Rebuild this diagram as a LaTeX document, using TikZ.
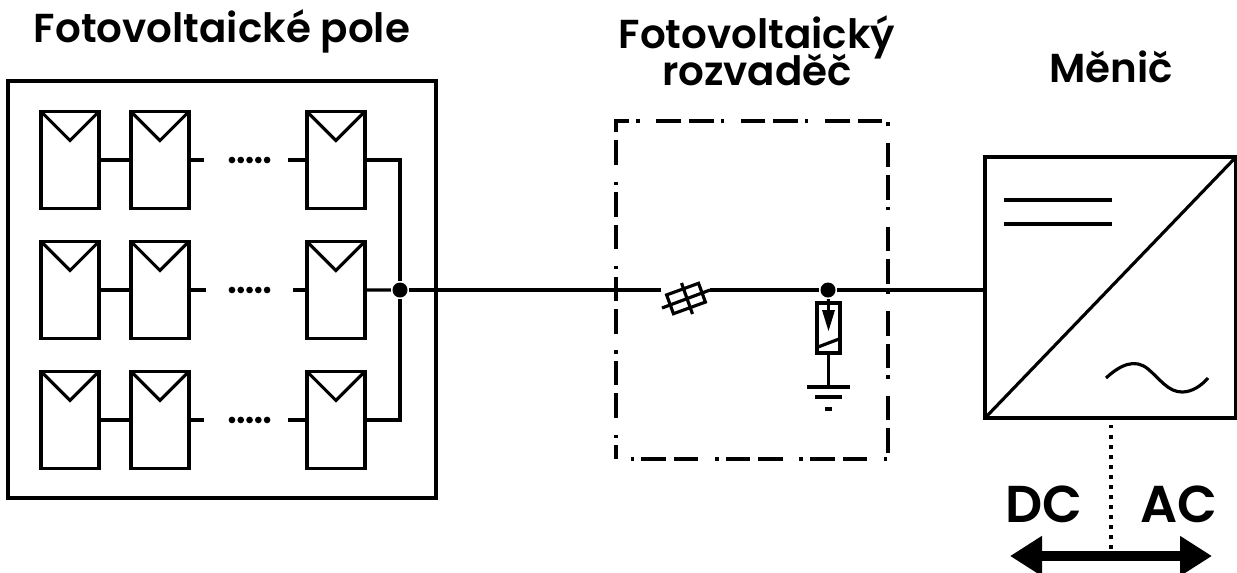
\documentclass[tikz,border=0pt]{standalone}
\usepackage{fontspec}
\setmainfont{Poppins}[BoldFont={Poppins SemiBold}]
\usetikzlibrary{positioning, arrows.meta}

\begin{document}
\begin{tikzpicture}[x = 0.02cm, y = -0.02cm, line width = 1.8pt,
    panel/.style={rectangle, draw, outer sep = 0pt, minimum width = 1.16cm, minimum height = 1.94cm,
      path picture={\draw (path picture bounding box.north west) -- ++(0.58cm, -0.58cm) -- (path picture bounding box.north east);}},
    frame/.style={rectangle, draw, outer sep = 0pt},
    dots/.style={line width = 3.8pt, line cap = round, dash pattern = on 0pt off 5pt},
    dot/.style={circle, fill, inner sep = 0pt, minimum size = 0.30cm},
    title/.style={font = \bfseries\fontsize{23}{26}\selectfont, align = center},
    big/.style={font = \bfseries\fontsize{29.5}{32}\selectfont}]
  \useasboundingbox (0,0) rectangle (1237,572);

  % frames
  \node [frame, minimum width = 8.56cm, minimum height = 8.34cm] (field) at (222,289.5) {};
  \node [frame, dash pattern = on 14pt off 4.5pt on 14pt off 9.5pt on 2pt off 4pt, dash phase = 33.6pt, minimum width = 5.44cm, minimum height = 6.76cm] (box) at (752,290) {};
  \node [frame, minimum width = 5.02cm, minimum height = 5.22cm] (inverter) at (1110.5,287.5) {};

  % labels
  \node [title] (fieldlabel) at (222,31) {Fotovoltaické pole};
  \node [title, text depth = 0pt] (boxlabel) at (757,51) {Fotovoltaický\\[-5pt]rozvaděč};
  \node [title] (inverterlabel) at (1111,67) {Měnič};
  \node [big] (dc) at (1044,504) {DC};
  \node [big] (ac) at (1179,504) {AC};

  % panels
  \node [panel] (panel11) at (70,160) {};
  \node [panel][right = 0.64cm of panel11] (panel12) {};
  \node [panel][right = 2.36cm of panel12] (panel13) {};

  \node [panel][below = 0.66cm of panel11] (panel21) {};
  \node [panel][right = 0.64cm of panel21] (panel22) {};
  \node [panel][right = 2.36cm of panel22] (panel23) {};

  \node [panel][below = 0.66cm of panel21] (panel31) {};
  \node [panel][right = 0.64cm of panel31] (panel32) {};
  \node [panel][right = 2.36cm of panel32] (panel33) {};

  % stubs and dots
  \coordinate [right = 0.30cm of panel12.east] (stub11);
  \coordinate [left = 0.38cm of panel13.west] (stub12);
  \coordinate [right = 0.34cm of panel22.east] (stub21);
  \coordinate [left = 0.28cm of panel23.west] (stub22);
  \coordinate [right = 0.30cm of panel32.east] (stub31);
  \coordinate [left = 0.38cm of panel33.west] (stub32);
  \coordinate [right = 0.86cm of panel12.east] (dots11);
  \coordinate [right = 1.66cm of panel12.east] (dots12);
  \coordinate [right = 0.86cm of panel22.east] (dots21);
  \coordinate [right = 1.66cm of panel22.east] (dots22);
  \coordinate [right = 0.86cm of panel32.east] (dots31);
  \coordinate [right = 1.66cm of panel32.east] (dots32);

  \draw (panel11) -- (panel12);
  \draw (panel21) -- (panel22);
  \draw (panel31) -- (panel32);
  \draw (panel12) -- (stub11);
  \draw (stub12) -- (panel13);
  \draw (panel22) -- (stub21);
  \draw (stub22) -- (panel23);
  \draw (panel32) -- (stub31);
  \draw (stub32) -- (panel33);
  \draw [dots] (dots11) -- (dots12);
  \draw [dots] (dots21) -- (dots22);
  \draw [dots] (dots31) -- (dots32);

  % bus and main line
  \node [dot] (bus) at (400,290) {};
  \coordinate (fusein) at (661,290);
  \coordinate (fuseout) at (710,290);
  \coordinate (fusetail) at (662,308);
  \node [rectangle, draw, outer sep = 0pt, rotate = 20, minimum width = 0.68cm, minimum height = 0.40cm] (fuse) at (686,298.5) {};
  \coordinate (fusebar1) at (681.5,283);
  \coordinate (fusebar2) at (692.5,314);
  \node [dot] (tap) at (828,290) {};

  \draw (panel13) -| (bus);
  \draw (panel33) -| (bus);
  \draw (panel23) -- (bus);
  \draw (bus) -- (fusein);
  \draw (fusetail) -- (fuseout);
  \draw (fusebar1) -- (fusebar2);
  \draw (fuseout) -- (tap);
  \draw (tap) -- (tap -| inverter.west);

  % arrester
  \node [rectangle, draw, outer sep = 0pt, minimum width = 0.46cm, minimum height = 1.00cm] (arrester) at (828.5,328) {};
  \coordinate (earth1) at (828.5,387);
  \draw (tap) -- (arrester.north);
  \draw (arrester.south) -- (earth1);
  \draw (arrester.north) -- (828.5,312);
  \fill (822,310) -- (835,310) -- (828.5,331) -- cycle;
  \draw (818,347) -- (839,339);
  \draw (807,387) -- (850,387);
  \draw (815,397) -- (842,397);
  \draw (825,409) -- (832,409);

  % inverter
  \draw (inverter.south west) -- (inverter.north east);
  \draw (1004,200) -- (1112,200);
  \draw (1004,224) -- (1112,224);
  \draw (1106,378) .. controls (1120,365) and (1135,358) .. (1148,369) .. controls (1160,379) and (1168,392) .. (1182,392) .. controls (1192,392) and (1201,386) .. (1208,378);

  % dc ac
  \coordinate (arrowl) at (1010,556);
  \coordinate (arrowr) at (1212,556);
  \coordinate (arrowm) at (1111,556);
  \draw [line width = 2pt, dash pattern = on 2pt off 3.7pt] (inverter.south -| arrowm) ++(0,7) -- (arrowm);
  \draw [{Triangle[length = 0.64cm, width = 0.76cm]}-{Triangle[length = 0.64cm, width = 0.76cm]}, line width = 5.6pt] (arrowl) -- (arrowr);
\end{tikzpicture}
\end{document}
